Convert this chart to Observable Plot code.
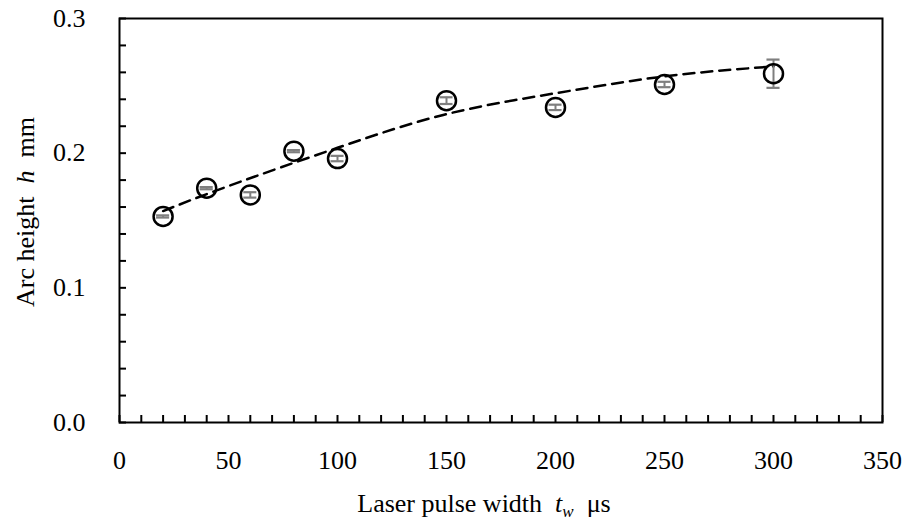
<!DOCTYPE html>
<html>
<head>
<meta charset="utf-8">
<script src="https://cdn.jsdelivr.net/npm/d3@7"></script>
<script src="https://cdn.jsdelivr.net/npm/@observablehq/plot@0.6"></script>
<style>
  html, body { margin: 0; padding: 0; background: #fff; }
  #chart { width: 910px; height: 521px; }
  #chart svg, #chart svg text { font-family: "Liberation Serif", "DejaVu Serif", serif !important; }
</style>
</head>
<body>
<div id="chart"></div>
<script>
// Measured points: laser pulse width (µs) vs arc height (mm)
const pulseWidth = [20, 40, 60, 80, 100, 150, 200, 250, 300];
const arcHeight  = [0.153, 0.174, 0.169, 0.2015, 0.196, 0.239, 0.234, 0.251, 0.259];
const arcError   = [0.0008, 0.0008, 0.002, 0.0008, 0.002, 0.0025, 0.002, 0.002, 0.0105];

// Dashed trend curve
const trendX = [20, 50, 100, 150, 200, 250, 300];
const trendY = [0.157, 0.1756, 0.204, 0.229, 0.2445, 0.257, 0.2644];

// Tick labels
const xTickLabels = [0, 50, 100, 150, 200, 250, 300, 350];
const yTickLabels = [0.0, 0.1, 0.2, 0.3];
const xMinorTicks = d3.range(0, 351, 10);
const yMinorTicks = d3.ticks(0, 0.3, 15);

const points = pulseWidth.map((x, i) => ({x, h: arcHeight[i], e: arcError[i]}));
const trend = trendX.map((x, i) => ({x, y: trendY[i]}));

const FONT = "Liberation Serif, DejaVu Serif, serif";

const chart = Plot.plot({
  width: 910,
  height: 521,
  marginLeft: 119,
  marginRight: 28,
  marginTop: 18,
  marginBottom: 99,
  style: {fontFamily: FONT, fontSize: "26px", color: "#000", background: "#fff"},
  x: {domain: [0, 350]},
  y: {domain: [0, 0.3]},
  marks: [
    Plot.axisX({ticks: xMinorTicks, tickSize: -7, text: null, label: null, strokeWidth: 2}),
    Plot.axisY({ticks: yMinorTicks, tickSize: -7, text: null, label: null, strokeWidth: 2}),
    Plot.axisX({ticks: xTickLabels, tickSize: 0, tickPadding: 28, label: null, tickFormat: d => String(d)}),
    Plot.axisY({ticks: yTickLabels, tickSize: 0, tickPadding: 34, label: null, tickFormat: d3.format(".1f")}),
    Plot.frame({stroke: "black", strokeWidth: 2}),
    Plot.line(trend, {x: "x", y: "y", curve: "natural", stroke: "black", strokeWidth: 2.5, strokeDasharray: "11,7"}),
    Plot.ruleX(points, {x: "x", y1: d => d.h - d.e, y2: d => d.h + d.e, stroke: "#7f7f7f", strokeWidth: 2}),
    Plot.ruleY(points, {y: d => d.h + d.e, x1: d => d.x - 3, x2: d => d.x + 3, stroke: "#7f7f7f", strokeWidth: 2.2}),
    Plot.ruleY(points, {y: d => d.h - d.e, x1: d => d.x - 3, x2: d => d.x + 3, stroke: "#7f7f7f", strokeWidth: 2.2}),
    Plot.dot(points, {x: "x", y: "h", r: 9.5, stroke: "black", strokeWidth: 2.5, fill: "none"})
  ]
});

const svg = d3.select(chart);
const yt = svg.append("text")
  .attr("transform", "translate(34,212) rotate(-90)")
  .attr("text-anchor", "middle")
  .attr("font-family", FONT)
  .attr("font-size", 26)
  .attr("fill", "black")
  .style("white-space", "pre");
yt.append("tspan").text("Arc height  ");
yt.append("tspan").attr("font-style", "italic").text("h");
yt.append("tspan").text("  mm");

const xt = svg.append("text")
  .attr("x", 484)
  .attr("y", 512)
  .attr("text-anchor", "middle")
  .attr("font-family", FONT)
  .attr("font-size", 26)
  .attr("fill", "black")
  .style("white-space", "pre");
xt.append("tspan").text("Laser pulse width  ");
xt.append("tspan").attr("font-style", "italic").text("t");
xt.append("tspan").attr("font-style", "italic").attr("font-size", 17).attr("dy", 5).text("w");
xt.append("tspan").attr("dy", -5).text("  μs");

document.getElementById("chart").appendChild(chart);
</script>
</body>
</html>
